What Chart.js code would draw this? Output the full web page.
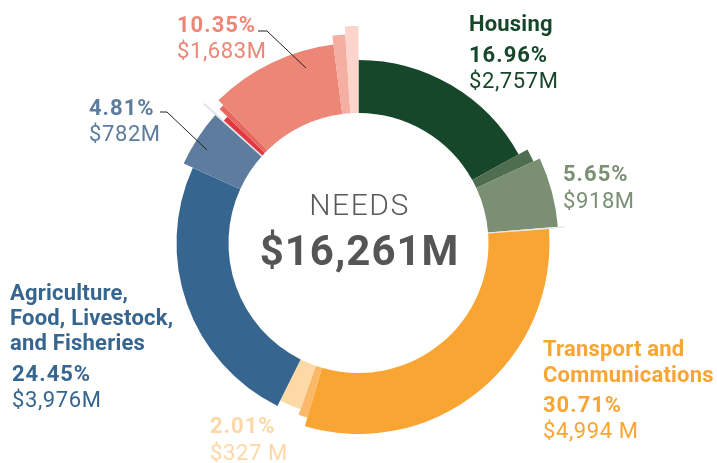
<!DOCTYPE html>
<html>
<head>
<meta charset="utf-8">
<script src="https://cdn.jsdelivr.net/npm/chart.js@4.4.1/dist/chart.umd.min.js"></script>
<style>
    html, body { margin: 0; padding: 0; background: #ffffff; }
    #wrap { width: 717px; height: 463px; position: relative; }
</style>
</head>
<body>
<div id="wrap"><canvas id="needsChart"></canvas></div>
<script>
// segments clockwise from 12 o'clock (shares in % of total needs)
const segments = [
    'Housing', 'Housing (other)', 'Shelter', 'gap',
    'Transport and Communications', 'Transport (other)', 'Energy',
    'Agriculture, Food, Livestock, and Fisheries', 'Environment', 'gap',
    'Health (a)', 'Health (b)', 'Social', 'Social (a)', 'Social (b)'
];
const shares = [16.96, 1.10, 5.65, 0.12, 30.71, 0.80, 2.01, 24.45, 4.81, 0.15, 0.45, 0.45, 10.35, 1.00, 1.00];

const totalNeeds = '$16,261M';

// callout texts
const calloutNames = [['Housing'], [], [], ['Agriculture,', 'Food, Livestock,', 'and Fisheries'], [], ['Transport and', 'Communications'], []];
const calloutPct = ['16.96%', '10.35%', '4.81%', '24.45%', '5.65%', '30.71%', '2.01%'];
const calloutAmount = ['$2,757M', '$1,683M', '$782M', '$3,976M', '$918M', '$4,994 M', '$327 M'];

// styles
const colors = ['#17472a', '#4f6e4f', '#7b8f73', '#e4e7ea', '#f9a533', '#fbb868', '#fdd9a6',
    '#36668f', '#5e7c9e', '#dfe4eb', '#e0383e', '#e8675e', '#ec8676', '#f5afa2', '#fbd5cc'];
const ringRadius = [183, 193, 200, 207, 191, 182, 176, 182, 192, 208, 182, 193, 200, 209, 217];
const innerR = 130;

const calloutStyle = [
    { x: 469, color: '#17472a', lines: [31], pct: 62, amt: 88 },
    { x: 177, color: '#ec8676', lines: [], pct: 32, amt: 58 },
    { x: 89, color: '#5e7c9e', lines: [], pct: 115, amt: 141 },
    { x: 10, color: '#36668f', lines: [300, 325, 350], pct: 381, amt: 407, px: 12 },
    { x: 563, color: '#7b8f73', lines: [], pct: 181, amt: 208 },
    { x: 543, color: '#f9a533', lines: [356, 382], pct: 412, amt: 438 },
    { x: 210, color: '#fdd7a5', lines: [], pct: 433, amt: 460 }
];
const leaders = [
    [[258, 31], [267, 31], [306, 68]],
    [[160, 112], [167, 112], [207, 150]]
];

const FONT = 'Roboto, "DejaVu Sans", sans-serif';

const radiusPlugin = {
    id: 'segmentRadius',
    afterDatasetsUpdate(chart) {
        const meta = chart.getDatasetMeta(0);
        meta.data.forEach((arc, i) => {
            arc.outerRadius = ringRadius[i];
            arc.innerRadius = innerR;
        });
    }
};

const textPlugin = {
    id: 'needsText',
    afterDraw(chart) {
        const ctx = chart.ctx;
        const arc = chart.getDatasetMeta(0).data[0];
        const cx = arc.x, cy = arc.y;
        ctx.save();
        ctx.textAlign = 'center';
        ctx.textBaseline = 'alphabetic';
        ctx.fillStyle = '#5a5a5a';
        ctx.letterSpacing = '1.5px';
        ctx.font = '300 30px ' + FONT;
        ctx.fillText('NEEDS', cx + 1, cy - 28);
        ctx.fillStyle = '#555555';
        ctx.letterSpacing = '1px';
        ctx.font = 'bold 42px ' + FONT;
        ctx.fillText(totalNeeds, cx + 1, cy + 22);

        ctx.textAlign = 'left';
        calloutStyle.forEach((s, i) => {
            ctx.fillStyle = s.color;
            ctx.font = 'bold 22px ' + FONT;
            ctx.letterSpacing = '0.2px';
            calloutNames[i].forEach((t, j) => ctx.fillText(t, s.x, s.lines[j]));
            ctx.letterSpacing = '1px';
            ctx.fillText(calloutPct[i], s.px ?? s.x, s.pct);
            ctx.font = '400 22px ' + FONT;
            ctx.letterSpacing = '0.6px';
            ctx.fillText(calloutAmount[i], s.px ?? s.x, s.amt);
        });

        ctx.strokeStyle = '#222222';
        ctx.lineWidth = 1;
        leaders.forEach(pts => {
            ctx.beginPath();
            pts.forEach((p, k) => k ? ctx.lineTo(p[0], p[1]) : ctx.moveTo(p[0], p[1]));
            ctx.stroke();
        });
        ctx.restore();
    }
};

const ctx = document.getElementById('needsChart');

new Chart(ctx, {
    type: 'doughnut',
    data: {
        labels: segments,
        datasets: [{
            data: shares,
            backgroundColor: colors,
            borderWidth: 0
        }]
    },
    options: {
        responsive: true,
        maintainAspectRatio: false,
        animation: false,
        events: [],
        radius: 217,
        cutout: innerR,
        layout: { padding: { top: 23 } },
        plugins: {
            legend: { display: false },
            tooltip: { enabled: false }
        }
    },
    plugins: [radiusPlugin, textPlugin]
});
</script>
</body>
</html>
